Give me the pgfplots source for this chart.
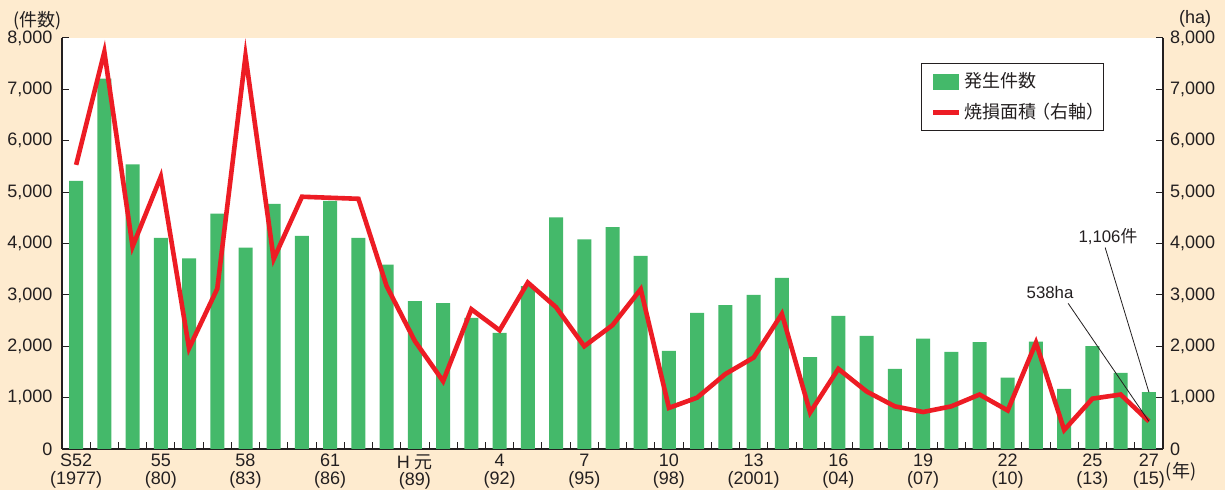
\documentclass[border=0pt]{standalone}
\usepackage{pgfplots}
\pgfplotsset{compat=1.18}
\usepackage{fontspec}
\setmainfont{Liberation Sans}
\newfontfamily\cjk{Noto Sans CJK JP}
\definecolor{cream}{RGB}{254,235,207}
\definecolor{bargreen}{RGB}{68,185,106}
\definecolor{linered}{RGB}{237,28,36}
\definecolor{textc}{RGB}{35,31,32}
\begin{document}
\begin{tikzpicture}[x=1pt,y=1pt]
\useasboundingbox (0,0) rectangle (612.5,245);
\fill[cream] (0,0) rectangle (612.5,245);
\pgfplotsset{
  base/.style={
    at={(31pt,20.5pt)}, anchor=south west,
    scale only axis, width=550.5pt, height=205.5pt,
    xmin=-0.5, xmax=38.5, ymin=0, ymax=8000,
    ytick={0,1000,...,8000},
    tick align=inside,
    major tick length=3.3pt,
    tick style={textc, line width=0.5pt},
    axis line style={textc, line width=0.6pt},
    /pgf/number format/assume math mode=true,
    /pgf/number format/.cd, 1000 sep={,}, /pgfplots/.cd,
    ticklabel style={font=\fontsize{9}{9}\selectfont, text=textc},
    scaled y ticks=false,
  }
}
\begin{axis}[base,
  axis background/.style={fill=white},
  axis x line*=bottom, axis y line*=left,
  xtick={0,3,6,9,12,15,18,21,24,27,30,33,36,38},
  xticklabels={
    {S52\\(1977)},
    {55\\(80)},
    {58\\(83)},
    {61\\(86)},
    {H\kern2.5pt{\cjk 元}\\(89)},
    {4\\(92)},
    {7\\(95)},
    {10\\(98)},
    {13\\(2001)},
    {16\\(04)},
    {19\\(07)},
    {22\\(10)},
    {25\\(13)},
    {27\\(15)}},
  xticklabel style={align=center, font=\fontsize{9}{8.8}\selectfont, inner sep=1pt, yshift=-1.5pt},
  minor xtick={0.5,1.5,...,37.5},
  minor tick length=3.5pt,
  xtick style={draw=none},
  minor x tick style={draw=textc, line width=0.5pt},
  yticklabel style={xshift=-1.3pt},
]
\addplot[ybar, bar width=7pt, fill=bargreen, draw=none] coordinates {
(0,5220) (1,7210) (2,5540) (3,4110) (4,3710) (5,4580) (6,3920) (7,4770)
(8,4150) (9,4830) (10,4110) (11,3590) (12,2880) (13,2840) (14,2550) (15,2260)
(16,3170) (17,4510) (18,4080) (19,4320) (20,3760) (21,1910) (22,2650) (23,2800)
(24,3000) (25,3330) (26,1790) (27,2590) (28,2200) (29,1560) (30,2150) (31,1890)
(32,2080) (33,1390) (34,2090) (35,1170) (36,2000) (37,1480) (38,1106)};
\end{axis}
\begin{axis}[base,
  axis x line=none, axis y line*=right,
  yticklabel style={xshift=0pt},
  legend style={at={(0.780,0.939)}, anchor=north west, draw=textc, line width=0.5pt,
    fill=white, font=\fontsize{9}{10}\selectfont\cjk, text=textc,
    inner xsep=4.9pt, inner ysep=3pt, row sep=3pt,
    nodes={inner xsep=0.1pt, inner ysep=1.6pt},
    /tikz/every odd column/.append style={column sep=1.5pt}},
  legend cell align=left,
]
\addlegendimage{legend image code/.code={\fill[bargreen] (0pt,-3.75pt) rectangle (12.5pt,3.75pt);}}
\addlegendentry{発生件数}
\addplot[linered, line width=2.3pt, line join=miter,
  legend image code/.code={\draw[linered, line width=2.3pt] (0pt,0pt) -- (13pt,0pt);}] coordinates {
(0,5530) (1,7730) (2,3940) (3,5300) (4,1960) (5,3120) (6,7650) (7,3700)
(8,4910) (9,4890) (10,4870) (11,3170) (12,2100) (13,1320) (14,2720) (15,2310)
(16,3240) (17,2760) (18,2000) (19,2410) (20,3110) (21,800) (22,1000) (23,1460)
(24,1780) (25,2630) (26,710) (27,1560) (28,1120) (29,830) (30,720) (31,830)
(32,1060) (33,750) (34,2070) (35,370) (36,980) (37,1060) (38,538)};
\addlegendentry{焼損面積\kern-0.25em（右軸）\kern-0.6em}
\draw[textc, line width=0.4pt] (axis cs:36.45,3922) -- (axis cs:38,1106);
\draw[textc, line width=0.4pt] (axis cs:35.14,2835) -- (axis cs:38,538);
\node[text=textc, font=\fontsize{8.4}{9}\selectfont, inner sep=0pt] at (axis cs:36.55,4136) {1,106{\cjk 件}};
\node[text=textc, font=\fontsize{8.4}{9}\selectfont, inner sep=0pt] at (axis cs:34.5,3049) {538ha};
\end{axis}
\node[text=textc, font=\fontsize{9}{9}\selectfont\cjk, inner sep=0pt] at (18.75,234.5) {(件数)};
\node[text=textc, font=\fontsize{9}{9}\selectfont, inner sep=0pt] at (597.5,235.5) {(ha)};
\node[text=textc, font=\fontsize{9}{9}\selectfont\cjk, inner sep=0pt] at (590.5,9) {(年)};
\end{tikzpicture}
\end{document}
